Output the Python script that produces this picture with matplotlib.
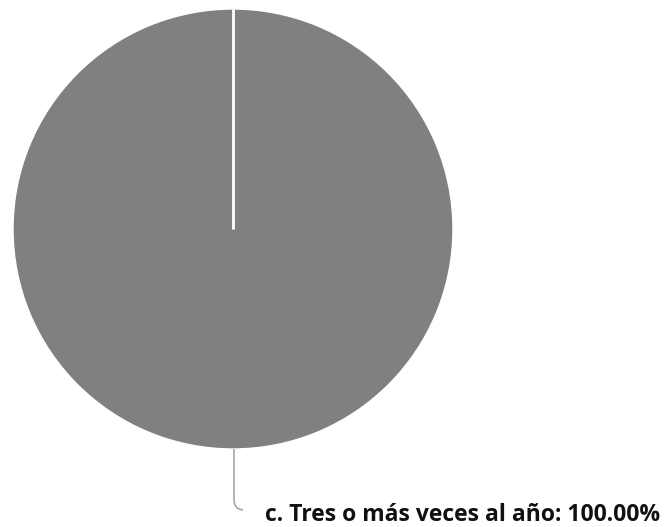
import numpy as np
import matplotlib
matplotlib.use("Agg")
import matplotlib.pyplot as plt
from matplotlib.path import Path
from matplotlib.patches import PathPatch

categories = ["c. Tres o más veces al año"]
values = [100.0]
colors = ["#808080"]

W, H = 667, 527
fig = plt.figure(figsize=(W / 100, H / 100), dpi=100)

cx, cy, r = 233, 229, 220
ax = fig.add_axes([(cx - r) / W, 1 - (cy + r) / H, 2 * r / W, 2 * r / H])
wedges, _ = ax.pie(values, colors=colors, startangle=90, counterclock=False,
                   wedgeprops=dict(edgecolor="white", linewidth=1))
# slice boundary line (start edge of the wedge)
for w in wedges:
    ang = np.deg2rad(w.theta2)
    ax.plot([w.center[0], w.center[0] + w.r * np.cos(ang)],
            [w.center[1], w.center[1] + w.r * np.sin(ang)],
            color="white", linewidth=2, solid_capstyle="butt")
ax.set_xlim(-1, 1)
ax.set_ylim(-1, 1)
ax.set_aspect("auto")
ax.axis("off")

total = sum(values)
label = f"{categories[0]}: {values[0] / total * 100:.2f}%"

def fx(px):
    return px / W

def fy(py):
    return 1 - py / H

verts = [(fx(234), fy(449)), (fx(234), fy(500)),
         (fx(234), fy(509)), (fx(243), fy(510))]
codes = [Path.MOVETO, Path.LINETO, Path.CURVE3, Path.CURVE3]
fig.patches.append(PathPatch(Path(verts, codes), transform=fig.transFigure,
                             fill=False, edgecolor="#a6a6a6", linewidth=1.2))

fig.text(fx(265), fy(521), label, fontsize=16.5, fontweight="bold",
         family=["Open Sans", "DejaVu Sans"], color="#111111",
         ha="left", va="baseline")

fig.savefig("out.png", dpi=100)
